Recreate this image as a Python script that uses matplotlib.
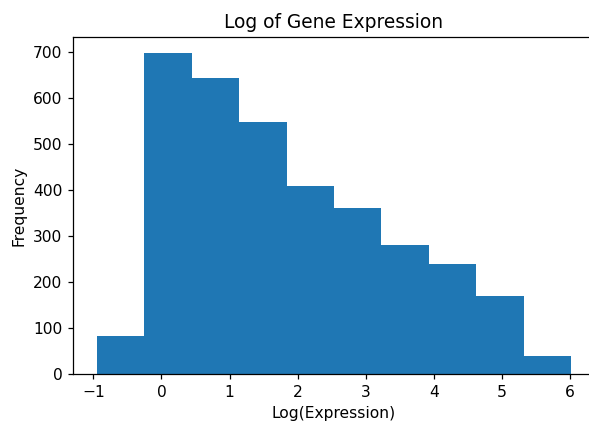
import numpy as np
import matplotlib
matplotlib.use('Agg')
import matplotlib.pyplot as plt

# histogram of log expression values
bin_edges = [-0.946, -0.250, 0.446, 1.142, 1.838, 2.534, 3.230, 3.926, 4.622, 5.318, 6.014]
counts = [84, 697, 642, 548, 409, 361, 281, 240, 170, 40]

dpi = 112
fig = plt.figure(figsize=(589 / dpi, 422 / dpi), dpi=dpi)
ax = fig.add_axes([0.1245, 0.113, 0.885, 0.7995])

ax.hist(bin_edges[:-1], bins=bin_edges, weights=counts, color='#1f77b4')

ax.set_title('Log of Gene Expression')
ax.set_xlabel('Log(Expression)')
ax.set_ylabel('Frequency')
ax.set_xticks([-1, 0, 1, 2, 3, 4, 5, 6])

fig.savefig('out.png', dpi=dpi)
